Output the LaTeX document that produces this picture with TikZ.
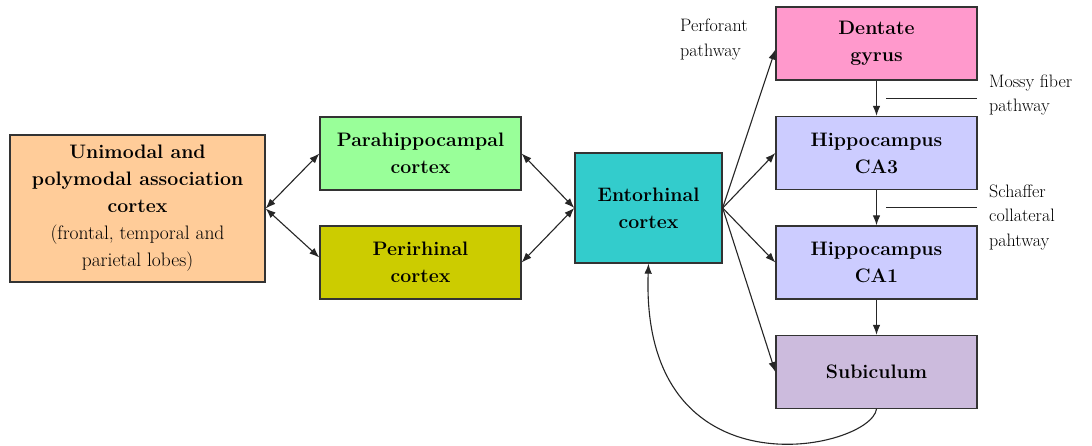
\documentclass[tikz,border=0pt]{standalone}
\usetikzlibrary{arrows.meta,calc}
\definecolor{cPeach}{HTML}{FFCC99}
\definecolor{cPara}{HTML}{99FF99}
\definecolor{cPeri}{HTML}{CCCC00}
\definecolor{cEnto}{HTML}{33CCCC}
\definecolor{cDent}{HTML}{FF99CC}
\definecolor{cHipp}{HTML}{CCCCFF}
\definecolor{cSub}{HTML}{CCBBDD}
\definecolor{cLine}{HTML}{333333}
\begin{document}
\begin{tikzpicture}[x=1pt,y=-1pt,
  box/.style={draw=cLine, line width=1.3pt, inner sep=0pt, align=center,
    font=\fontsize{19.5}{27}\selectfont\bfseries},
  wide/.style={minimum width=201pt, minimum height=73pt},
  conn/.style={draw=black!85, line width=1.1pt},
  lbl/.style={inner sep=0pt, align=left, font=\fontsize{18}{24.5}\selectfont},
  >={Latex[length=10pt,width=7.5pt]}]
\useasboundingbox[fill=white] (0,0) rectangle (1092,445);

% boxes
\node[box, fill=cPeach, minimum width=255pt, minimum height=147pt] (L) at (137.5,208.5)
  {Unimodal and\\polymodal association\\cortex\\\mdseries (frontal, temporal and\\\mdseries parietal lobes)};
\node[box, wide, fill=cPara] (P) at (420.5,153.5) {Parahippocampal\\cortex};
\node[box, wide, fill=cPeri] (R) at (420.5,262.5) {Perirhinal\\cortex};
\node[box, fill=cEnto, minimum width=147pt, minimum height=110pt] (E) at (648.5,208) {Entorhinal\\cortex};
\node[box, wide, fill=cDent] (D) at (876.5,43.5) {Dentate\\gyrus};
\node[box, wide, fill=cHipp] (C3) at (876.5,153) {Hippocampus\\CA3};
\node[box, wide, fill=cHipp] (C1) at (876.5,262.5) {Hippocampus\\CA1};
\node[box, wide, fill=cSub] (S) at (876.5,372) {Subiculum};

% bidirectional connectors
\draw[conn,<->] (L.east) -- (P.west);
\draw[conn,<->] (L.east) -- ([yshift=5pt]R.west);
\draw[conn,<->] (P.east) -- (E.west);
\draw[conn,<->] (R.east) -- (E.west);

% fan from entorhinal
\draw[conn,->] (E.east) -- ([yshift=-6pt]D.west);
\draw[conn,->] (E.east) -- (C3.west);
\draw[conn,->] (E.east) -- (C1.west);
\draw[conn,->] (E.east) -- (S.west);

% vertical chain
\draw[conn,->] (D.south) -- (C3.north);
\draw[conn,->] (C3.south) -- (C1.north);
\draw[conn,->] (C1.south) -- (S.north);

% return from subiculum
\draw[conn,->] (S.south) .. controls (870,450) and (640,500) .. (E.south);

% pathway marker lines
\coordinate (m1) at (886,98.5);
\coordinate (m2) at (977,98.5);
\coordinate (s1) at (886,207.5);
\coordinate (s2) at (977,207.5);
\draw[conn] (m1) -- (m2);
\draw[conn] (s1) -- (s2);

% labels
\node[lbl, anchor=north west] (perf) at (680,19) {Perforant\\pathway};
\node[lbl, anchor=north west] (mossy) at (989,74.5) {Mossy fiber\\pathway};
\node[lbl, anchor=north west] (schaf) at (989,184.5) {Schaffer\\collateral\\pahtway};
\end{tikzpicture}
\end{document}
